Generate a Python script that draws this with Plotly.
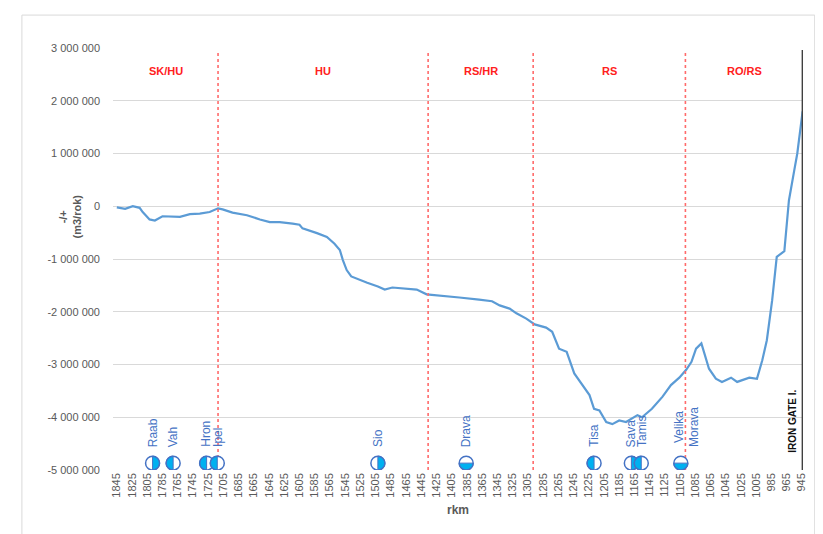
import math
import plotly.graph_objects as go

# rkm stations and cumulative volume balance (m3/rok)
rkm = [1845, 1834, 1824, 1815, 1811, 1802, 1795, 1785, 1762, 1749, 1736, 1723, 1712, 1706,
       1693, 1674, 1657, 1644, 1631, 1622, 1614, 1605, 1601, 1582, 1569, 1559, 1552, 1548,
       1543, 1537, 1526, 1516, 1502, 1493, 1483, 1464, 1451, 1438, 1421, 1395, 1369, 1352,
       1342, 1329, 1320, 1307, 1296, 1281, 1273, 1264, 1254, 1244, 1224, 1218, 1211, 1202,
       1194, 1185, 1176, 1161, 1155, 1142, 1128, 1117, 1106, 1097, 1090, 1084, 1077, 1073,
       1067, 1058, 1050, 1038, 1030, 1014, 1004, 997, 991, 984, 978, 968, 962, 955, 951, 944]
bilance = [-20000, -50000, 0, -30000, -110000, -250000, -270000, -190000, -200000, -150000,
           -140000, -110000, -40000, -60000, -120000, -170000, -250000, -300000, -300000,
           -310000, -330000, -350000, -420000, -510000, -580000, -710000, -830000, -1020000,
           -1210000, -1330000, -1400000, -1450000, -1520000, -1580000, -1540000, -1570000,
           -1580000, -1670000, -1690000, -1730000, -1770000, -1800000, -1880000, -1940000,
           -2030000, -2130000, -2240000, -2300000, -2380000, -2700000, -2760000, -3170000,
           -3580000, -3840000, -3870000, -4090000, -4130000, -4060000, -4090000, -3960000,
           -4000000, -3840000, -3610000, -3390000, -3250000, -3100000, -2950000, -2700000,
           -2600000, -2790000, -3080000, -3270000, -3330000, -3250000, -3330000, -3250000,
           -3270000, -2920000, -2540000, -1780000, -960000, -850000, 110000, 680000,
           1000000, 1800000]

# tributaries
pritoky = ["Raab", "Vah", "Hron", "Ipel", "Sio", "Drava", "Tisa", "Sava", "Tamis", "Velika<br>Morava"]
pritoky_rkm = [1798, 1771, 1727, 1713, 1502, 1386, 1218, 1169, 1156, 1104]
pritoky_strana = ["R", "L", "L", "L", "R", "B", "L", "R", "L", "B"]

# state sections
hranice = [1712, 1436, 1298, 1098]
useky = ["SK/HU", "HU", "RS/HR", "RS", "RO/RS"]
iron_gate = 944

x_ticks = [1845, 1825, 1805, 1785, 1765, 1745, 1725, 1705, 1685, 1665, 1645, 1625, 1605,
           1585, 1565, 1545, 1525, 1505, 1485, 1465, 1445, 1425, 1405, 1385, 1365, 1345,
           1325, 1305, 1285, 1265, 1245, 1225, 1205, 1185, 1165, 1145, 1125, 1105, 1085,
           1065, 1045, 1025, 1005, 985, 965, 945]
y_ticks = [3000000, 2000000, 1000000, 0, -1000000, -2000000, -3000000, -4000000, -5000000]
y_ticks_text = ["3 000 000", "2 000 000", "1 000 000", "0", "-1 000 000", "-2 000 000",
                "-3 000 000", "-4 000 000", "-5 000 000"]

x_min, x_max = 1850, 943.5
marker_y = -4870000
R = 7

gray = "#595959"
fig = go.Figure()

fig.add_trace(go.Scatter(x=rkm, y=bilance, mode="lines",
                         line=dict(color="#5B9BD5", width=2.2), hoverinfo="x+y"))

shapes = []
annotations = []

# dashed section borders + section labels
for h in hranice:
    shapes.append(dict(type="line", xref="x", yref="paper", x0=h, x1=h, y0=0, y1=0.995,
                       line=dict(color="#FF6B6B", width=1.6, dash="dot")))
edges = [x_min] + hranice + [iron_gate]
for i, name in enumerate(useky):
    annotations.append(dict(x=(edges[i] + edges[i + 1]) / 2, y=2560000, xref="x", yref="y",
                            text="<b>" + name + "</b>", showarrow=False,
                            font=dict(color="#FF2020", size=11)))

# Iron Gate I.
shapes.append(dict(type="line", xref="x", yref="paper", x0=iron_gate, x1=iron_gate,
                   y0=0, y1=0.995, line=dict(color="#404040", width=2)))
annotations.append(dict(x=iron_gate, y=-4720000, xref="x", yref="y", text="<b>IRON GATE I.</b>",
                        textangle=-90, showarrow=False, xanchor="right", yanchor="bottom",
                        xshift=-2, font=dict(color="#111111", size=10)))


def half_path(side):
    if side == "L":
        a0, a1 = 90, 270
    elif side == "R":
        a0, a1 = -90, 90
    else:
        a0, a1 = 180, 360
    pts = []
    for k in range(25):
        a = math.radians(a0 + (a1 - a0) * k / 24)
        pts.append("%.2f,%.2f" % (R * math.cos(a), R * math.sin(a)))
    return "M " + " L ".join(pts) + " Z"


for name, xr, side in zip(pritoky, pritoky_rkm, pritoky_strana):
    shapes.append(dict(type="circle", xref="x", yref="y", xsizemode="pixel", ysizemode="pixel",
                       xanchor=xr, yanchor=marker_y, x0=-R, x1=R, y0=-R, y1=R,
                       fillcolor="white", line=dict(width=0), layer="above"))
    shapes.append(dict(type="path", xref="x", yref="y", xsizemode="pixel", ysizemode="pixel",
                       xanchor=xr, yanchor=marker_y, path=half_path(side),
                       fillcolor="#00B0F0", line=dict(color="#4472C4", width=1), layer="above"))
    shapes.append(dict(type="circle", xref="x", yref="y", xsizemode="pixel", ysizemode="pixel",
                       xanchor=xr, yanchor=marker_y, x0=-R, x1=R, y0=-R, y1=R,
                       line=dict(color="#4472C4", width=1.5), layer="above"))
    annotations.append(dict(x=xr, y=marker_y, xref="x", yref="y", text=name, textangle=-90,
                            showarrow=False, yanchor="bottom", yshift=14,
                            xshift=6 if "<br>" in name else 0,
                            font=dict(color="#4472C4", size=12)))

# y axis title
annotations.append(dict(x=-0.062, y=-190000, xref="paper", yref="y", xanchor="center",
                        text="<b>-/+<br>(m3/rok)</b>", textangle=-90, showarrow=False,
                        font=dict(color=gray, size=11)))

# outer chart frame
shapes.append(dict(type="rect", xref="paper", yref="paper", x0=-0.132, x1=1.017, y0=-0.3, y1=1.078,
                   line=dict(color="#D9D9D9", width=1), layer="below"))

fig.update_layout(
    width=823, height=534,
    margin=dict(l=105, r=28, t=40, b=72),
    paper_bgcolor="white", plot_bgcolor="white",
    showlegend=False,
    font=dict(family="Liberation Sans, Arial, sans-serif", color=gray, size=11),
    shapes=shapes, annotations=annotations,
)
fig.update_xaxes(range=[x_min, x_max], tickmode="array", tickvals=x_ticks, tickangle=-90,
                 showgrid=False, zeroline=False, showline=False, ticks="",
                 tickfont=dict(size=11, color=gray),
                 title=dict(text="<b>rkm</b>", font=dict(size=12, color=gray), standoff=8))
fig.update_yaxes(range=[-5000000, 3000000], tickmode="array", tickvals=y_ticks,
                 ticktext=y_ticks_text, showgrid=True, gridcolor="#D9D9D9", gridwidth=1,
                 zeroline=False, showline=False, ticks="", ticklabelstandoff=12,
                 tickfont=dict(size=11, color=gray))

fig.write_html("out.html")
